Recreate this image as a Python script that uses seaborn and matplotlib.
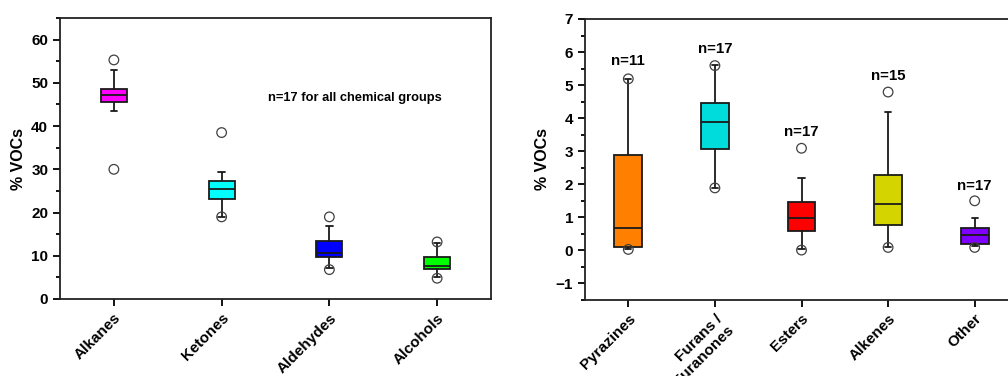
import pandas as pd
import matplotlib
matplotlib.use("Agg")
import matplotlib.pyplot as plt
import seaborn as sns
from matplotlib.ticker import MultipleLocator

# === Daten: linkes Panel (Hauptgruppen) ===
groups_a = ["Alkanes", "Ketones", "Aldehydes", "Alcohols"]
colors_a = ["#FF00FF", "#00FFFF", "#0000FF", "#00FF00"]
whislo_a = [43.6, 19.0, 7.1, 5.0]
q1_a = [45.6, 23.2, 9.6, 6.9]
med_a = [47.2, 25.5, 10.6, 7.6]
q3_a = [48.6, 27.4, 13.4, 9.8]
whishi_a = [52.9, 29.3, 16.9, 13.0]
min_a = [30.0, 19.0, 6.8, 4.8]
max_a = [55.3, 38.5, 19.0, 13.2]

# === Daten: rechtes Panel (Nebengruppen) ===
groups_b = ["Pyrazines", "Furans /\nFuranones", "Esters", "Alkenes", "Other"]
colors_b = ["#FF8000", "#00DCDC", "#FF0000", "#D4D400", "#8000FF"]
whislo_b = [0.05, 1.9, 0.05, 0.10, 0.12]
q1_b = [0.09, 3.08, 0.59, 0.78, 0.18]
med_b = [0.68, 3.89, 0.99, 1.39, 0.48]
q3_b = [2.88, 4.47, 1.47, 2.29, 0.69]
whishi_b = [5.2, 5.6, 2.18, 4.18, 0.98]
min_b = [0.03, 1.89, 0.01, 0.09, 0.09]
max_b = [5.19, 5.59, 3.09, 4.79, 1.50]
n_b = ["n=11", "n=17", "n=17", "n=15", "n=17"]
n_pos_b = [5.72, 6.10, 3.59, 5.27, 1.96]

FONT = "Liberation Sans"


def long_table(groups, lo, q1, med, q3, hi):
    # Fünf-Punkte-Zusammenfassung -> Box mit whis=(0, 100)
    rows = []
    for g, *vals in zip(groups, lo, q1, med, q3, hi):
        rows += [(g, v) for v in vals]
    return pd.DataFrame(rows, columns=["Gruppe", "Wert"])


def draw(ax, groups, colors, lo, q1, med, q3, hi, mins, maxs, width, cap):
    df = long_table(groups, lo, q1, med, q3, hi)
    sns.boxplot(
        data=df, x="Gruppe", y="Wert", hue="Gruppe", order=groups,
        palette=dict(zip(groups, colors)), legend=False, whis=(0, 100),
        width=width, linewidth=1.3, linecolor="#1a1a1a", showfliers=False,
        saturation=1, ax=ax,
    )
    # kurze Whisker-Kappen wie im Original
    for ln in ax.lines:
        xd = list(ln.get_xdata())
        yd = list(ln.get_ydata())
        if len(xd) == 2 and yd[0] == yd[1] and yd[0] in list(lo) + list(hi):
            mid = (xd[0] + xd[1]) / 2
            ln.set_xdata([mid - cap / 2, mid + cap / 2])
    ext = pd.DataFrame({"Gruppe": groups * 2, "Wert": list(mins) + list(maxs)})
    sns.scatterplot(
        data=ext, x="Gruppe", y="Wert", marker="o", s=48,
        facecolor="none", edgecolor="#404040", linewidth=0.9, ax=ax, zorder=5,
    )
    ax.set_xlim(-0.5, len(groups) - 0.5)
    ax.set_xlabel("")
    ax.set_ylabel("% VOCs", fontsize=11.5, fontweight="bold", fontfamily=FONT)
    ax.tick_params(axis="both", direction="out", length=5, width=1.3,
                   labelsize=11)
    ax.tick_params(axis="y", which="minor", direction="out", length=3,
                   width=1.3)
    ax.tick_params(axis="x", which="minor", length=0)
    ax.set_xticks(range(len(groups)))
    ax.set_xticklabels(groups, rotation=45, ha="right", rotation_mode="anchor",
                       fontweight="bold", fontfamily=FONT, fontsize=11)
    for sp in ax.spines.values():
        sp.set_visible(True)
        sp.set_color("#222222")
        sp.set_linewidth(1.3)


sns.set_style("ticks")
plt.rcParams["font.family"] = [FONT, "DejaVu Sans"]
for key in ["text.color", "axes.labelcolor", "xtick.color", "ytick.color"]:
    plt.rcParams[key] = "black"

fig = plt.figure(figsize=(10.08, 3.76), dpi=100)
ax1 = fig.add_axes([60 / 1008, 77 / 376, 431 / 1008, 281 / 376])
ax2 = fig.add_axes([585 / 1008, 76 / 376, 433 / 1008, 281 / 376])

draw(ax1, groups_a, colors_a, whislo_a, q1_a, med_a, q3_a, whishi_a,
     min_a, max_a, width=0.24, cap=0.06)
ax1.set_ylim(0, 65)
ax1.yaxis.set_major_locator(MultipleLocator(10))
ax1.yaxis.set_minor_locator(MultipleLocator(5))
for lab in ax1.get_yticklabels():
    lab.set_fontweight("bold")
    lab.set_fontfamily(FONT)
ax1.text(2.24, 46.6, "n=17 for all chemical groups", ha="center",
         va="center", fontsize=9.3, fontweight="bold", fontfamily=FONT)

draw(ax2, groups_b, colors_b, whislo_b, q1_b, med_b, q3_b, whishi_b,
     min_b, max_b, width=0.32, cap=0.07)
ax2.set_ylim(-1.5, 7)
ax2.yaxis.set_minor_locator(MultipleLocator(0.5))
ax2.set_yticks(range(-1, 8))
ax2.set_yticklabels(["\u22121"] + [str(i) for i in range(0, 8)])
for lab in ax2.get_yticklabels():
    lab.set_fontweight("bold")
    lab.set_fontfamily(FONT)
for i, (txt, y) in enumerate(zip(n_b, n_pos_b)):
    ax2.text(i, y, txt, ha="center", va="center", fontsize=10.8,
             fontweight="bold", fontfamily=FONT)

fig.savefig("out.png", dpi=100)
